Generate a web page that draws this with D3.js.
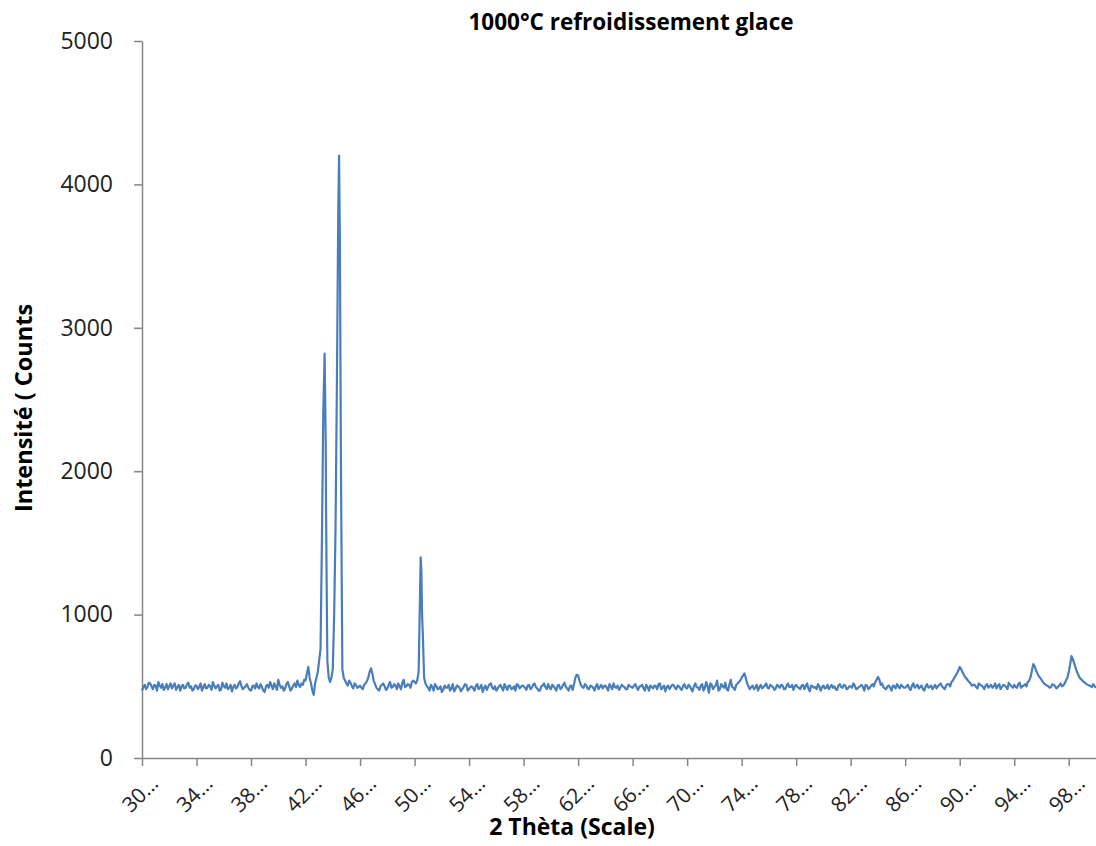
<!DOCTYPE html>
<html>
<head>
<meta charset="utf-8">
<script src="https://cdn.jsdelivr.net/npm/d3@7"></script>
<style>
  body { margin: 0; background: #fff; }
  text { font-family: "Open Sans", sans-serif; }
</style>
</head>
<body>
<svg id="xrd" width="1096" height="846"></svg>
<script>
// x ticks of the category axis (labels are cut by Excel, hence the "…")
const xTicks = [30, 34, 38, 42, 46, 50, 54, 58, 62, 66, 70, 74, 78, 82, 86, 90, 94, 98];
const yTicks = [0, 1000, 2000, 3000, 4000, 5000];

// scan: counts at 30.0, 30.2, ... 100.0
const scanStart = 30, scanStep = 0.2;
const scanCounts = [
  470, 510, 495, 520, 480, 505, 530, 490, 475, 515, 500, 485, 520, 495, 470, 510, 490, 525, 500, 480,
  505, 495, 470, 515, 490, 500, 530, 485, 510, 475, 500, 520, 490, 465, 510, 495, 535, 480, 500, 490,
  470, 505, 520, 485, 495, 460, 510, 530, 480, 500, 545, 490, 470, 515, 500, 485, 520, 540, 495, 510,
  540, 635, 520, 440, 560, 680, 1500, 2820, 680, 530, 620, 1600, 3800, 2000, 560, 520, 540, 500, 520, 490,
  505, 480, 520, 560, 625, 540, 490, 470, 510, 500, 485, 530, 495, 505, 520, 480, 545, 500, 510, 530,
  530, 545, 1150, 880, 520, 490, 510, 470, 500, 485, 460, 505, 490, 470, 515, 480, 500, 465, 495, 510,
  480, 500, 470, 515, 490, 460, 505, 495, 520, 480, 470, 500, 490, 515, 475, 505, 485, 470, 510, 495,
  500, 475, 510, 490, 520, 485, 470, 505, 495, 515, 480, 500, 470, 510, 490, 525, 485, 500, 475, 560,
  575, 510, 490, 505, 480, 500, 470, 515, 495, 485, 505, 470, 500, 520, 490, 475, 510, 495, 480, 500,
  490, 515, 475, 500, 485, 510, 470, 495, 505, 480, 520, 490, 465, 505, 495, 510, 480, 500, 475, 515,
  485, 500, 465, 520, 490, 505, 470, 530, 455, 510, 495, 540, 480, 500, 525, 470, 545, 490, 510, 530,
  560, 590, 520, 480, 505, 490, 470, 510, 495, 520, 485, 500, 475, 510, 490, 505, 480, 520, 495, 475,
  510, 490, 505, 480, 520, 465, 500, 495, 515, 470, 505, 490, 480, 510, 500, 475, 515, 490, 505, 485,
  500, 520, 480, 495, 510, 470, 505, 490, 515, 530, 565, 510, 495, 480, 505, 470, 500, 515, 485, 500,
  490, 510, 475, 520, 500, 485, 505, 470, 515, 495, 480, 510, 500, 520, 490, 505, 515, 530, 560, 590,
  635, 600, 565, 540, 520, 510, 495, 520, 505, 480, 515, 500, 490, 520, 505, 480, 510, 495, 525, 500,
  510, 490, 525, 500, 515, 530, 565, 655, 610, 570, 545, 520, 505, 490, 515, 500, 495, 520, 505, 540,
  600, 710, 660, 600, 560, 540, 525, 510, 500, 515,
  490
];

// counts in between: 30.1, 30.3, ... 99.9
const midCounts = [
  495, 480, 525, 500, 510, 470, 505, 515, 490, 480, 520, 505, 475, 510, 500, 485, 515, 490, 470, 505,
  480, 520, 495, 485, 510, 475, 505, 500, 470, 525, 490, 480, 510, 495, 485, 520, 500, 490, 515, 475,
  500, 485, 495, 515, 470, 500, 490, 505, 520, 475, 510, 500, 485, 530, 470, 505, 495, 510, 520, 545,
  590, 560, 470, 520, 600, 760, 2400, 1800, 560, 560, 1000, 2600, 3800, 620, 540, 505, 525, 485, 510, 495,
  490, 510, 535, 600, 590, 515, 480, 500, 520, 475, 510, 490, 515, 480, 500, 525, 495, 515, 490, 540,
  520, 600, 1300, 560, 500, 470, 495, 515, 480, 500, 475, 490, 510, 485, 465, 505, 490, 480, 515, 470,
  495, 485, 505, 480, 510, 490, 475, 515, 490, 500, 485, 510, 470, 495, 505, 480, 500, 515, 485, 505,
  490, 505, 480, 510, 495, 470, 500, 520, 480, 490, 510, 485, 505, 480, 510, 495, 470, 505, 515, 580,
  540, 495, 515, 485, 505, 490, 500, 480, 510, 500, 490, 515, 480, 495, 505, 490, 500, 480, 510, 495,
  505, 490, 500, 510, 470, 495, 505, 485, 500, 515, 480, 505, 495, 480, 510, 490, 505, 485, 500, 490,
  510, 480, 500, 495, 475, 515, 490, 500, 520, 480, 505, 470, 515, 490, 480, 510, 495, 475, 520, 540,
  575, 560, 500, 495, 480, 510, 495, 485, 505, 490, 510, 495, 485, 500, 510, 480, 505, 495, 510, 500,
  495, 480, 510, 500, 485, 505, 490, 480, 500, 495, 485, 510, 495, 490, 480, 505, 495, 510, 480, 500,
  490, 505, 485, 500, 495, 510, 480, 505, 500, 545, 550, 520, 485, 500, 490, 505, 485, 500, 510, 490,
  500, 485, 505, 490, 510, 495, 480, 500, 490, 505, 495, 485, 510, 500, 480, 515, 500, 540, 575, 610,
  620, 580, 555, 530, 505, 510, 485, 510, 495, 505, 490, 510, 500, 485, 515, 495, 505, 480, 510, 490,
  495, 515, 490, 505, 500, 540, 610, 640, 590, 560, 530, 510, 500, 495, 510, 485, 505, 500, 520, 560,
  650, 690, 630, 580, 550, 530, 515, 505, 495, 500
];

// extra points read on the flanks of the strong peaks
const peakTheta  = [43.48, 43.56, 44.46, 44.52, 50.45, 50.55];
const peakCounts = [2200, 1100, 4200, 3600, 1400, 1000];

const svg    = d3.select("#xrd"),
      margin = {top: 41, right: 0, bottom: 88, left: 142},
      width  = +svg.attr("width")  - margin.left - margin.right,
      height = +svg.attr("height") - margin.top  - margin.bottom,
      x      = d3.scaleLinear().domain([30, 100]).range([0, width]),
      y      = d3.scaleLinear().domain([0, 5000]).range([height, 0]),
      g      = svg.append("g")
                  .attr("transform", `translate(${margin.left},${margin.top})`);

const data = scanCounts.map((c, i) => ({t: scanStart + i * scanStep, c: c}))
  .concat(midCounts.map((c, i) => ({t: scanStart + scanStep / 2 + i * scanStep, c: c})))
  .concat(peakTheta.map((t, i) => ({t: t, c: peakCounts[i]})))
  .sort((a, b) => a.t - b.t);

const xAxis = g.append("g")
    .attr("class", "axis axis-x")
    .attr("transform", `translate(0,${height})`)
    .call(d3.axisBottom(x).tickValues(xTicks).tickSize(8).tickSizeOuter(0)
            .tickFormat(d => d + "…"));

xAxis.selectAll("text")
    .attr("x", 0).attr("y", 0).attr("dy", 0)
    .attr("text-anchor", "end")
    .attr("transform", "translate(17,27) rotate(-45)")
    .style("font-size", "21px")
    .attr("fill", "#222");

const yAxis = g.append("g")
    .attr("class", "axis axis-y")
    .call(d3.axisLeft(y).tickValues(yTicks).tickSize(8).tickSizeOuter(0).tickPadding(21)
            .tickFormat(d3.format("d")));

yAxis.selectAll("text")
    .style("font-size", "23px")
    .attr("fill", "#222");

svg.selectAll(".axis path, .axis line")
    .attr("stroke", "#868686")
    .attr("stroke-width", 1.5);

g.append("path")
    .datum(data)
    .attr("fill", "none")
    .attr("stroke", "#4A7EBB")
    .attr("stroke-width", 2.2)
    .attr("stroke-linejoin", "round")
    .attr("d", d3.line().x(d => x(d.t)).y(d => y(d.c)));

svg.append("text")
    .attr("x", 631)
    .attr("y", 30)
    .attr("text-anchor", "middle")
    .style("font-size", "22.5px")
    .style("font-weight", "bold")
    .text("1000°C refroidissement glace");

svg.append("text")
    .attr("x", 572)
    .attr("y", 835)
    .attr("text-anchor", "middle")
    .style("font-size", "23px")
    .style("font-weight", "bold")
    .text("2 Thèta (Scale)");

svg.append("text")
    .attr("transform", "translate(32,408) rotate(-90)")
    .attr("text-anchor", "middle")
    .style("font-size", "23.5px")
    .style("font-weight", "bold")
    .text("Intensité ( Counts");
</script>
</body>
</html>
